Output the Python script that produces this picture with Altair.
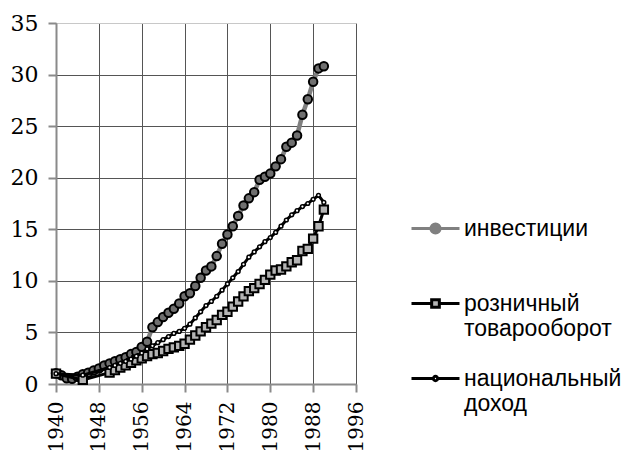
import altair as alt
import pandas as pd

names = ["инвестиции", "розничный товарооборот", "национальный доход"]

years_inv = list(range(1940, 1991))
inv = [1.05, 0.85, 0.55, 0.5, 0.7, 0.95, 1.1, 1.3, 1.5, 1.8,
       2.0, 2.2, 2.4, 2.6, 2.9, 3.1, 3.6, 4.1, 5.5, 6.0,
       6.5, 6.9, 7.3, 7.8, 8.5, 8.8, 9.5, 10.3, 11.0, 11.4,
       12.4, 13.6, 14.5, 15.3, 16.3, 17.3, 18.0, 18.6, 19.8, 20.1,
       20.4, 21.1, 21.8, 23.0, 23.4, 24.1, 26.1, 27.6, 29.3, 30.6,
       30.8]

years_ret = [1940, 1945] + list(range(1950, 1991))
ret = [1.0, 0.4,
       1.1, 1.35, 1.6, 1.8, 2.05, 2.3, 2.5, 2.7, 2.9, 3.0,
       3.2, 3.4, 3.55, 3.7, 3.9, 4.3, 4.7, 5.1, 5.5, 5.85,
       6.2, 6.7, 7.0, 7.5, 8.0, 8.5, 9.0, 9.3, 9.7, 10.1,
       10.6, 11.0, 11.1, 11.4, 11.8, 12.0, 12.9, 13.1, 14.1, 15.3,
       16.9]

years_nat = [1940, 1945] + list(range(1950, 1991))
nat = [1.0, 0.85,
       1.6, 1.8, 2.0, 2.2, 2.4, 2.7, 3.0, 3.4, 3.7, 4.0,
       4.3, 4.6, 4.9, 5.1, 5.4, 5.8, 6.4, 7.0, 7.6, 8.0,
       8.5, 9.1, 9.7, 10.3, 10.9, 11.6, 12.3, 12.8, 13.3, 13.8,
       14.2, 14.7, 15.3, 15.9, 16.4, 16.8, 17.2, 17.5, 17.9, 18.3,
       17.6]

x_ticks = [1940, 1948, 1956, 1964, 1972, 1980, 1988, 1996]
y_ticks = [0, 5, 10, 15, 20, 25, 30, 35]

df_inv = pd.DataFrame({"year": years_inv, "value": inv, "series": names[0]})
df_ret = pd.DataFrame({"year": years_ret, "value": ret, "series": names[1]})
df_nat = pd.DataFrame({"year": years_nat, "value": nat, "series": names[2]})
df_all = pd.concat([df_inv, df_ret, df_nat], ignore_index=True)

SERIF = "DejaVu Serif"

x_axis = alt.Axis(values=x_ticks, labelAngle=-90, format="d", title=None,
                  grid=True, gridColor="#555555", gridWidth=1,
                  domainColor="#8a8a8a", domainWidth=2,
                  tickColor="#8a8a8a", tickWidth=2, tickSize=8,
                  labelPadding=9, labelFont=SERIF,
                  labelFontSize=20, labelColor="#000000")
y_axis = alt.Axis(values=y_ticks, title=None, grid=True,
                  gridColor={"condition": {"test": "datum.value === 35", "value": "#c8c8c8"},
                             "value": "#555555"},
                  gridWidth=1,
                  domainColor="#8a8a8a", domainWidth=2,
                  tickColor="#8a8a8a", tickWidth=2, tickSize=8,
                  labelPadding=10, labelFont=SERIF,
                  labelFontSize=22, labelColor="#000000")
x_scale = alt.Scale(domain=[1940, 1996], nice=False, zero=False)
y_scale = alt.Scale(domain=[0, 35], nice=False)


def xe():
    return alt.X("year:Q", scale=x_scale, axis=x_axis)


def ye():
    return alt.Y("value:Q", scale=y_scale, axis=y_axis)


line_inv = alt.Chart(df_inv).mark_line(color="#808080", strokeWidth=4.5).encode(x=xe(), y=ye())
pts_inv = alt.Chart(df_inv).mark_point(shape="circle", filled=True, fill="#6f6f6f", stroke="#000000",
                                       strokeWidth=2, size=72, opacity=1).encode(x=xe(), y=ye())
line_ret = alt.Chart(df_ret).mark_line(color="#000000", strokeWidth=3).encode(x=xe(), y=ye())
pts_ret = alt.Chart(df_ret).mark_point(shape="square", filled=True, fill="#b4b4b4", stroke="#000000",
                                       strokeWidth=2, size=70, opacity=1).encode(x=xe(), y=ye())
line_nat = alt.Chart(df_nat).mark_line(color="#000000", strokeWidth=3).encode(x=xe(), y=ye())
pts_nat = alt.Chart(df_nat).mark_point(shape="circle", filled=True, fill="#ffffff", stroke="#000000",
                                       strokeWidth=1.5, size=14, opacity=1).encode(x=xe(), y=ye())

sym_circle = "M-1,0H-0.19M0.19,0H1M-0.19,0A0.19,0.19,0,1,1,0.19,0A0.19,0.19,0,1,1,-0.19,0Z"
sym_square = "M-1,0H-0.16M0.16,0H1M-0.16,-0.16H0.16V0.16H-0.16Z"
sym_small = "M-1,0H-0.09M0.09,0H1M-0.09,0A0.09,0.09,0,1,1,0.09,0A0.09,0.09,0,1,1,-0.09,0Z"

leg = alt.Legend(title=None, orient="none", legendX=354, legendY=180,
                 labelFont="Liberation Sans", labelFontSize=23, labelColor="#000000",
                 labelLimit=0, labelOffset=3, symbolSize=2304, symbolStrokeWidth=3,
                 padding=0, rowPadding=12, offset=0,
                 labelExpr="indexof(datum.label, ' ') > 0 ? [split(datum.label, ' ')[0], split(datum.label, ' ')[1]] : [datum.label, '']")

legend_layer = alt.Chart(df_all).transform_filter("datum.value < -100").mark_point(
    opacity=1, size=2304, strokeWidth=3).encode(
    x=xe(), y=ye(),
    shape=alt.Shape("series:N", scale=alt.Scale(domain=names, range=[sym_circle, sym_square, sym_small]), legend=leg),
    fill=alt.Fill("series:N", scale=alt.Scale(domain=names, range=["#808080", "#b4b4b4", "#ffffff"]), legend=leg),
    stroke=alt.Stroke("series:N", scale=alt.Scale(domain=names, range=["#808080", "#000000", "#000000"]), legend=leg),
)

chart = alt.layer(line_inv, pts_inv, line_ret, pts_ret, line_nat, pts_nat, legend_layer).properties(
    width=300, height=361,
    padding={"left": 48, "top": 15, "right": 270, "bottom": 70},
    autosize="none",
).configure_view(strokeWidth=0).configure(background="#ffffff")

chart.save("out.html", embed_options={"renderer": "svg", "actions": False})
